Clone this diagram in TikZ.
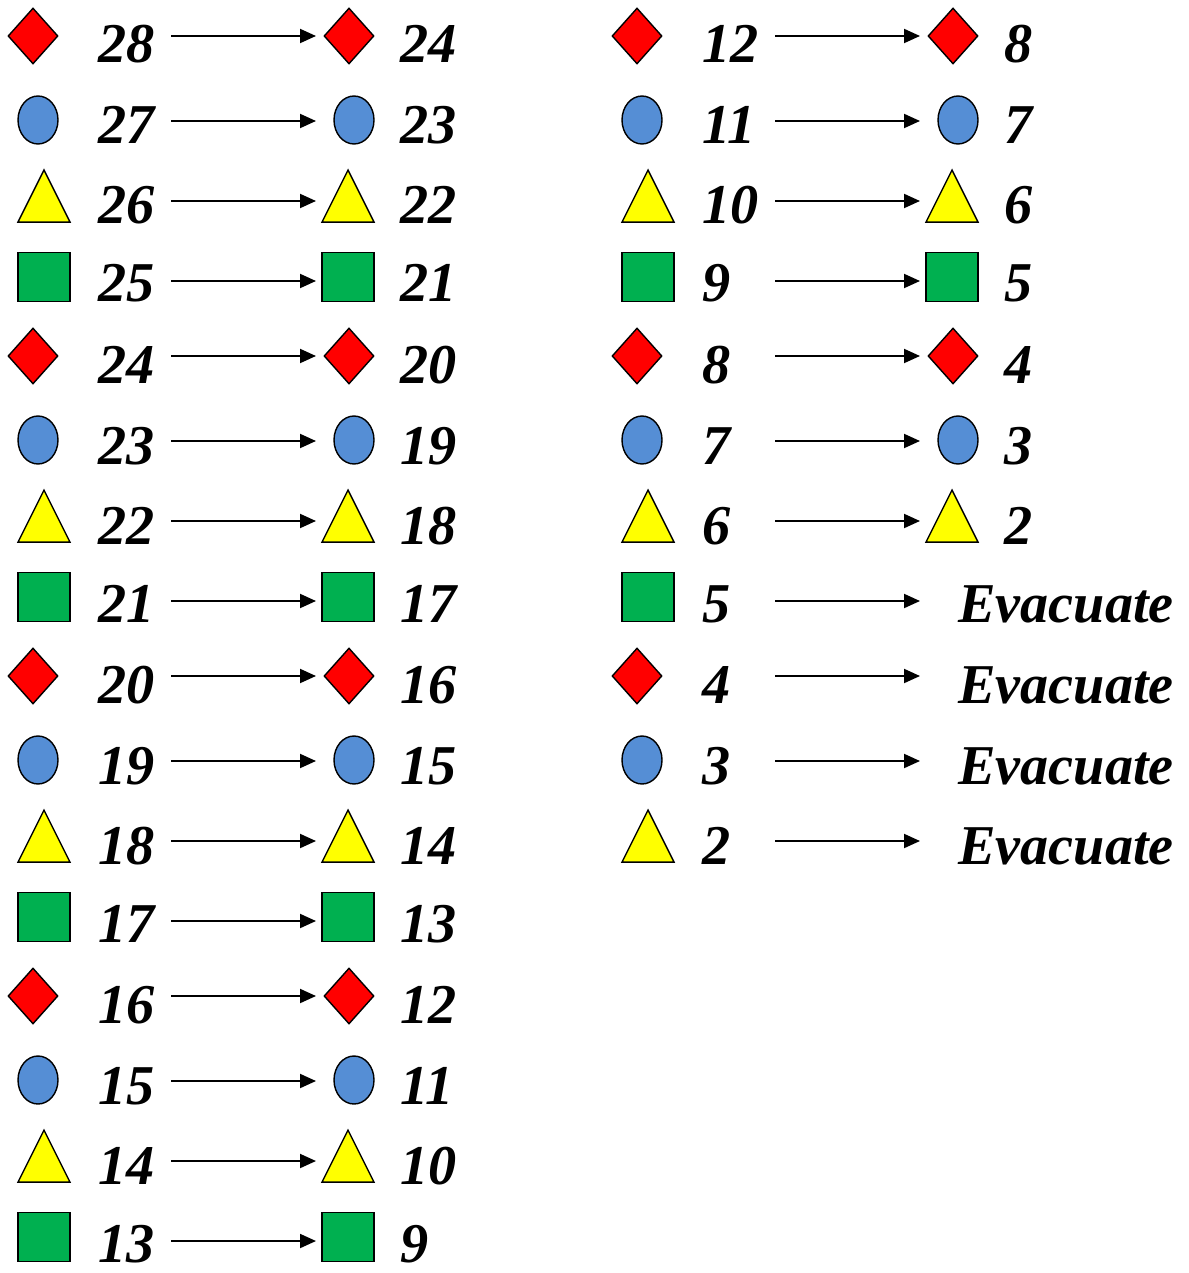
\documentclass[tikz,border=0pt]{standalone}
\usepackage{fontspec}
\setmainfont{Liberation Serif}
\usepackage{tikz}
\usetikzlibrary{shapes.geometric,arrows.meta}
\definecolor{shpred}{HTML}{FF0000}
\definecolor{shpblue}{HTML}{558ED5}
\definecolor{shpyellow}{HTML}{FFFF00}
\definecolor{shpgreen}{HTML}{00B050}

\begin{document}
\begin{tikzpicture}[
    x=0.02cm, y=-0.02cm,
    kind0/.style={diamond, draw, line width=0.8pt, fill=shpred, minimum width=1.0cm, minimum height=1.12cm, inner sep=0pt},
    kind1/.style={ellipse, draw, line width=0.8pt, fill=shpblue, minimum width=0.8cm, minimum height=0.96cm, inner sep=0pt},
    kind2/.style={isosceles triangle, isosceles triangle stretches, shape border rotate=90, draw, line width=0.8pt, fill=shpyellow, minimum width=1.04cm, minimum height=1.04cm, inner sep=0pt, yshift=-0.2cm},
    kind3/.style={rectangle, draw, line width=0.8pt, fill=shpgreen, minimum width=1.04cm, minimum height=0.98cm, inner sep=0pt},
    num/.style={anchor=base west, inner sep=0pt, text depth=0pt, font=\fontsize{32}{38}\selectfont\bfseries\itshape},
    move/.style={-{Triangle[length=3.2mm, width=2.8mm]}, line width=1.1pt},
]
\useasboundingbox (0,0) rectangle (1188,1273);

% column / row / number / new number
\foreach \cl/\rw/\src/\dst in {
    0/0/28/24, 0/1/27/23, 0/2/26/22, 0/3/25/21,
    0/4/24/20, 0/5/23/19, 0/6/22/18, 0/7/21/17,
    0/8/20/16, 0/9/19/15, 0/10/18/14, 0/11/17/13,
    0/12/16/12, 0/13/15/11, 0/14/14/10, 0/15/13/9,
    1/0/12/8, 1/1/11/7, 1/2/10/6, 1/3/9/5,
    1/4/8/4, 1/5/7/3, 1/6/6/2,
    1/7/5/Evacuate, 1/8/4/Evacuate, 1/9/3/Evacuate, 1/10/2/Evacuate} {
  \pgfmathtruncatemacro\t{mod(\rw,4)}
  \pgfmathsetmacro\gy{int(\rw/4)*320}
  \pgfmathsetmacro\ox{\cl*604}
  \pgfmathsetmacro\sy{\gy+{36,120,196,277}[\t]}
  \pgfmathsetmacro\ay{\gy+{36,121,201,281}[\t]}
  \pgfmathsetmacro\by{\gy+{63,144,224,302}[\t]}
  \pgfmathsetmacro\lx{\ox+{33,38,44,44}[\t]}
  \pgfmathsetmacro\rx{\ox+{349,354,348,348}[\t]}
  \pgfmathtruncatemacro\ev{and(\cl==1,\rw>6)}
  \node[kind\t] (shpL-\cl-\rw) at (\lx,\sy) {};
  \node[num] (numL-\cl-\rw) at (\ox+98,\by) {\src};
  \coordinate (from-\cl-\rw) at (\ox+171,\ay);
  \coordinate (to-\cl-\rw) at (\ox+316,\ay);
  \draw[move] (from-\cl-\rw) -- (to-\cl-\rw);
  \ifnum\ev=0
    \node[kind\t] (shpR-\cl-\rw) at (\rx,\sy) {};
    \node[num] (numR-\cl-\rw) at (\ox+400,\by) {\dst};
  \else
    \node[num] (numR-\cl-\rw) at (958,\by) {\dst};
  \fi
}
\end{tikzpicture}
\end{document}
